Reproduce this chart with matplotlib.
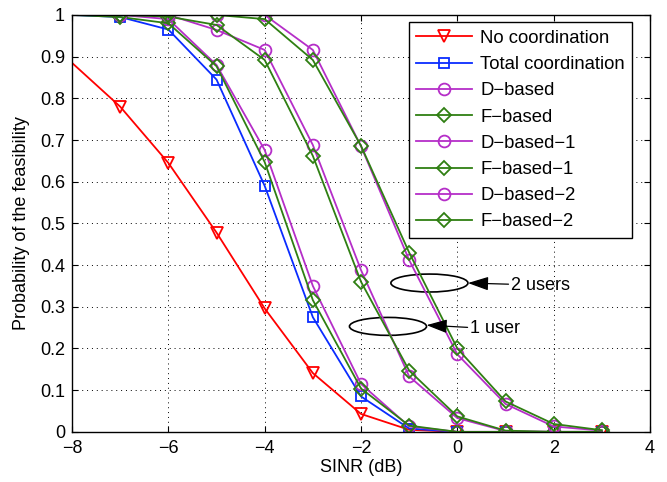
import matplotlib
matplotlib.use("Agg")
import matplotlib.pyplot as plt
from matplotlib.patches import Ellipse

plt.rcParams['font.family'] = ['Liberation Sans', 'DejaVu Sans']

sinr = [-8, -7, -6, -5, -4, -3, -2, -1, 0, 1, 2, 3]

no_coord    = [0.885, 0.78, 0.645, 0.478, 0.296, 0.141, 0.043, 0.005, 0.0, 0.0, 0.0, 0.0]
total_coord = [1.0, 0.995, 0.965, 0.845, 0.59, 0.275, 0.085, 0.008, 0.0, 0.0, 0.0, 0.0]
d_based     = [1.0, 1.0, 0.99, 0.88, 0.676, 0.35, 0.115, 0.013, 0.0, 0.0, 0.0, 0.0]
f_based     = [1.0, 0.995, 0.98, 0.877, 0.647, 0.316, 0.104, 0.015, 0.0, 0.0, 0.0, 0.0]
d_based_1   = [1.0, 1.0, 1.0, 0.964, 0.916, 0.688, 0.388, 0.133, 0.033, 0.002, 0.0, 0.0]
f_based_1   = [1.0, 1.0, 0.996, 0.976, 0.892, 0.662, 0.36, 0.147, 0.037, 0.003, 0.0, 0.0]
d_based_2   = [1.0, 1.0, 1.0, 1.0, 1.0, 0.916, 0.685, 0.412, 0.186, 0.067, 0.013, 0.003]
f_based_2   = [1.0, 1.0, 1.0, 1.0, 0.99, 0.892, 0.686, 0.43, 0.2, 0.073, 0.019, 0.004]

series = [
    ("No coordination", no_coord, '#ff0000', 'v', 9),
    ("Total coordination", total_coord, '#0a2cff', 's', 7),
    ("D\u2212based", d_based, '#b52ec8', 'o', 8.5),
    ("F\u2212based", f_based, '#2f7f12', 'D', 7.5),
    ("D\u2212based\u22121", d_based_1, '#b52ec8', 'o', 8.5),
    ("F\u2212based\u22121", f_based_1, '#2f7f12', 'D', 7.5),
    ("D\u2212based\u22122", d_based_2, '#b52ec8', 'o', 8.5),
    ("F\u2212based\u22122", f_based_2, '#2f7f12', 'D', 7.5),
]

fig = plt.figure(figsize=(6.67, 4.82), dpi=100)
ax = fig.add_axes([0.108, 0.104, 0.8665, 0.865])

for label, vals, color, marker, ms in series:
    ax.plot(sinr, vals, color=color, marker=marker, markersize=ms,
            markerfacecolor='none', markeredgecolor=color, markeredgewidth=1.3,
            linewidth=1.3, label=label, markevery=slice(1, None))

ax.set_xlim(-8, 4)
ax.set_ylim(0, 1)
ax.set_xticks([-8, -6, -4, -2, 0, 2, 4])
ax.set_xticklabels(['\u22128', '\u22126', '\u22124', '\u22122', '0', '2', '4'])
ax.set_yticks([0, 0.1, 0.2, 0.3, 0.4, 0.5, 0.6, 0.7, 0.8, 0.9, 1.0])
ax.set_yticklabels(['0', '0.1', '0.2', '0.3', '0.4', '0.5', '0.6', '0.7', '0.8', '0.9', '1'])
ax.tick_params(direction='in', top=True, right=True, labelsize=13, length=4, width=0.8)
ax.tick_params(axis='x', pad=6)
ax.tick_params(axis='y', pad=5)
ax.grid(True, color='black', linestyle=(0, (1, 4)), linewidth=0.7)
for s in ax.spines.values():
    s.set_linewidth(1.0)

ax.set_xlabel('SINR (dB)', fontsize=13, labelpad=1)
ax.set_ylabel('Probability of the feasibility', fontsize=13, labelpad=7)

leg = ax.legend(loc='upper right', bbox_to_anchor=(0.969, 0.982), borderaxespad=0,
                fontsize=13.3, fancybox=False, framealpha=1,
                edgecolor='black', borderpad=0.4, labelspacing=0.5,
                handlelength=3.0, handletextpad=0.45)
leg.get_frame().set_linewidth(1.0)

# annotations
e2 = Ellipse((-0.58, 0.357), 1.6, 0.043, fill=False, edgecolor='black', linewidth=1.2)
e1 = Ellipse((-1.44, 0.253), 1.6, 0.043, fill=False, edgecolor='black', linewidth=1.2)
ax.add_patch(e2)
ax.add_patch(e1)
arrow = dict(arrowstyle='-|>,head_length=0.9,head_width=0.3', color='black', lw=0.9,
             mutation_scale=14, shrinkA=0, shrinkB=0)
ax.annotate('2 users', xy=(0.22, 0.357), xytext=(1.12, 0.352),
            fontsize=13, va='center', ha='left', arrowprops=arrow)
ax.annotate('1 user', xy=(-0.64, 0.256), xytext=(0.27, 0.247),
            fontsize=13, va='center', ha='left', arrowprops=arrow)

fig.savefig('out.png', dpi=100)
